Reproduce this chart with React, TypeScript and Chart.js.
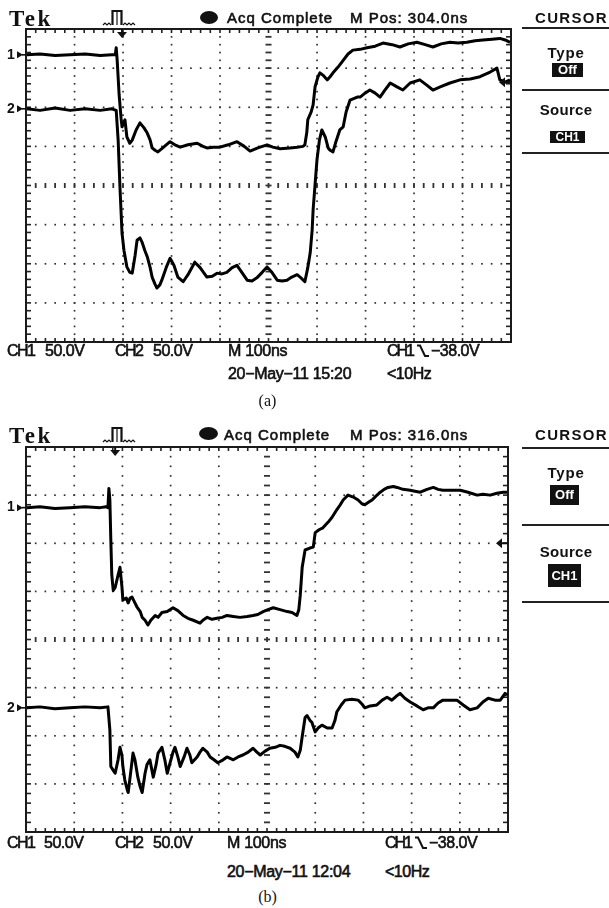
import React, { useEffect, useRef } from "react";
import { Chart, registerables } from "chart.js";

Chart.register(...registerables);

// ---- scope settings (ns / V) ----
const T_MIN = 0;
const T_MAX = 1000;
const V_MIN = -200;
const V_MAX = 200;
const DIV_T = 100;
const DIV_V = 50;
const MINOR_T = 20;
const MINOR_V = 10;

// ---- panel (a) traces ----
const aCh1T = [2,29,60,91,122,153,177,184,186,188,192,196,198,204,208,214,219,227,235,243,250,256,260,266,272,282,297,307,318,334,353,365,373,386,400,417,435,450,462,478,497,509,524,544,559,571,575,579,581,588,592,596,602,606,614,621,627,633,643,654,664,674,689,703,720,736,755,771,788,806,823,839,856,874,891,909,926,942,961,977,988,998];
const aCh1V = [167,168,166,167,168,166,167,167,176,160,116,86,75,84,62,54,58,71,80,74,67,58,48,45,43,48,56,52,49,52,54,50,48,49,49,52,56,50,44,48,52,49,47,48,49,50,52,68,84,94,103,126,139,144,140,135,139,144,151,160,168,173,174,176,178,182,180,177,181,183,180,177,181,183,182,183,185,186,187,188,186,183];
const aCh2T = [2,29,60,91,122,153,177,186,190,194,198,202,208,214,219,225,229,235,239,245,250,256,260,266,270,276,280,289,297,305,313,324,334,348,359,373,384,394,404,414,425,435,445,456,466,476,487,497,507,518,528,538,548,559,567,575,581,586,590,592,596,600,605,610,617,623,627,633,639,647,654,660,668,683,689,699,709,720,730,740,751,765,777,792,812,827,839,854,874,895,916,936,957,971,977,988,998];
const aCh2V = [98,96,99,96,98,96,98,96,58,-6,-61,-83,-104,-111,-112,-89,-70,-67,-72,-83,-91,-105,-117,-126,-131,-127,-121,-105,-93,-102,-117,-123,-114,-98,-105,-117,-116,-112,-113,-111,-105,-102,-111,-121,-122,-118,-111,-104,-111,-121,-122,-121,-117,-114,-118,-123,-105,-86,-57,-31,1,33,58,71,62,48,45,43,56,71,75,94,109,113,113,118,122,118,113,122,131,126,122,131,135,128,122,126,131,135,136,139,145,150,135,132,135];
const aRefs = [167, 98];
const aTrigPos = 198;
const aTrigLevel = 132;

// ---- panel (b) traces ----
const bCh1T = [2,29,60,91,122,154,166,170,172,174,176,178,181,185,191,195,199,201,208,212,216,220,226,230,237,241,247,253,259,268,274,282,293,305,315,326,336,347,361,367,376,386,396,407,417,430,444,459,471,481,492,502,513,527,542,552,562,566,569,573,579,589,596,600,608,616,627,635,645,652,658,668,679,689,697,703,712,718,726,735,743,751,762,770,782,797,807,818,832,845,855,865,880,901,917,936,948,963,977,990,998];
const bCh1V = [137,138,136,137,138,137,138,137,157,145,103,67,51,54,67,75,55,41,43,38,43,44,38,34,29,23,20,15,20,25,23,28,29,33,30,25,22,20,17,20,23,21,22,23,25,24,23,24,25,26,29,31,33,31,29,28,25,31,46,75,93,95,96,111,114,116,122,127,135,140,145,150,148,145,141,140,143,145,149,153,156,158,159,158,156,155,154,153,156,158,156,155,155,155,153,150,151,150,152,153,153];
const bCh2T = [2,29,60,91,122,154,170,174,176,181,185,191,195,199,201,205,210,212,216,222,226,232,237,241,247,251,257,264,270,274,282,288,293,299,305,309,315,320,328,334,340,344,355,361,367,376,382,390,398,409,417,430,440,450,461,471,479,486,496,506,517,527,537,548,558,564,569,573,579,583,589,593,600,606,614,625,635,641,645,654,662,676,689,697,703,714,728,739,749,759,768,776,786,797,811,824,834,845,855,865,880,894,907,921,936,948,959,973,984,994,998];
const bCh2V = [-71,-70,-72,-71,-70,-71,-70,-94,-132,-136,-139,-125,-112,-120,-132,-146,-156,-159,-143,-118,-125,-143,-153,-159,-139,-130,-125,-143,-130,-118,-112,-125,-139,-128,-117,-112,-122,-132,-122,-113,-120,-128,-122,-117,-113,-117,-122,-125,-128,-125,-122,-125,-122,-120,-117,-113,-117,-120,-116,-113,-112,-110,-111,-113,-117,-122,-115,-101,-81,-79,-84,-86,-96,-92,-89,-92,-92,-84,-75,-68,-63,-62,-63,-67,-71,-69,-68,-63,-60,-63,-59,-56,-61,-65,-69,-73,-71,-71,-66,-63,-63,-63,-68,-73,-71,-65,-61,-63,-63,-56,-58];
const bRefs = [137, -71];
const bTrigPos = 185;
const bTrigLevel = 100;

// ---- texts ----
const brand = "Tek";
const acqText = "Acq Complete";
const mPosA = "M Pos: 304.0ns";
const mPosB = "M Pos: 316.0ns";
const menuTitle = "CURSOR";
const menuType = "Type";
const menuTypeVal = "Off";
const menuSource = "Source";
const menuSourceVal = "CH1";
const ch1Label = "CH1";
const ch2Label = "CH2";
const voltsPerDiv = "50.0V";
const timePerDiv = "M 100ns";
const trigSource = "CH1";
const trigVolts = "\u221238.0V";
const dateA = "20\u2212May\u221211 15:20";
const dateB = "20\u2212May\u221211 12:04";
const freqText = "<10Hz";
const captionA = "(a)";
const captionB = "(b)";

const INK = "#111";

const graticule = {
  id: "scopeGraticule",
  beforeDatasetsDraw(chart: any, _a: any, opts: any) {
    const { ctx, chartArea: a, scales } = chart;
    const xs = scales.x;
    const ys = scales.y;
    ctx.save();
    ctx.fillStyle = "#333";
    for (let t = T_MIN + DIV_T; t < T_MAX; t += DIV_T) {
      const x = xs.getPixelForValue(t);
      const center = t === (T_MIN + T_MAX) / 2;
      for (let v = V_MIN + MINOR_V; v < V_MAX; v += MINOR_V) {
        const y = ys.getPixelForValue(v);
        if (center) ctx.fillRect(x - 3, y - 0.9, 6, 1.8);
        else ctx.fillRect(x - 0.8, y - 0.8, 1.7, 1.7);
      }
    }
    for (let v = V_MIN + DIV_V; v < V_MAX; v += DIV_V) {
      const y = ys.getPixelForValue(v);
      const center = v === 0;
      for (let t = T_MIN + MINOR_T; t < T_MAX; t += MINOR_T) {
        const x = xs.getPixelForValue(t);
        if (center) ctx.fillRect(x - 0.9, y - 2.5, 1.8, 5);
        else ctx.fillRect(x - 0.8, y - 0.8, 1.7, 1.7);
      }
    }
    ctx.fillStyle = "#222";
    for (let t = T_MIN + MINOR_T; t < T_MAX; t += MINOR_T) {
      const x = xs.getPixelForValue(t);
      ctx.fillRect(x - 0.8, a.top, 1.6, 4);
      ctx.fillRect(x - 0.8, a.bottom - 4, 1.6, 4);
    }
    for (let v = V_MIN + MINOR_V; v < V_MAX; v += MINOR_V) {
      const y = ys.getPixelForValue(v);
      ctx.fillRect(a.left, y - 0.8, 5, 1.6);
      ctx.fillRect(a.right - 5, y - 0.8, 5, 1.6);
    }
    ctx.strokeStyle = "#1a1a1a";
    ctx.lineWidth = 2;
    ctx.strokeRect(a.left, a.top, a.right - a.left, a.bottom - a.top);
    ctx.restore();
  },
  afterDatasetsDraw(chart: any, _a: any, opts: any) {
    const { ctx, chartArea: a, scales } = chart;
    const xs = scales.x;
    const ys = scales.y;
    ctx.save();
    ctx.fillStyle = INK;
    ctx.strokeStyle = INK;
    (opts.refs || []).forEach((r: number, i: number) => {
      const y = ys.getPixelForValue(r);
      ctx.font = 'bold 14px "Liberation Sans", Arial, sans-serif';
      ctx.textBaseline = "middle";
      ctx.textAlign = "left";
      ctx.fillText(String(i + 1), a.left - 19, y);
      ctx.beginPath();
      ctx.moveTo(a.left - 9, y - 3.5);
      ctx.lineTo(a.left - 3, y);
      ctx.lineTo(a.left - 9, y + 3.5);
      ctx.closePath();
      ctx.fill();
      ctx.fillRect(a.left - 4, y - 0.8, 4, 1.6);
    });
    if (opts.trigPos != null) {
      const x = xs.getPixelForValue(opts.trigPos);
      ctx.fillRect(x - 1, a.top, 2, 4);
      ctx.beginPath();
      ctx.moveTo(x - 5, a.top + 3);
      ctx.lineTo(x + 5, a.top + 3);
      ctx.lineTo(x, a.top + 9);
      ctx.closePath();
      ctx.fill();
    }
    if (opts.trigLevel != null) {
      const y = ys.getPixelForValue(opts.trigLevel);
      ctx.beginPath();
      ctx.moveTo(a.right - 12, y);
      ctx.lineTo(a.right - 6, y - 5);
      ctx.lineTo(a.right - 6, y + 5);
      ctx.closePath();
      ctx.fill();
      ctx.fillRect(a.right - 7, y - 1, 7, 2);
    }
    ctx.restore();
  },
};

type ScopeProps = {
  top: number;
  height: number;
  padRight: number;
  ch1T: number[];
  ch1V: number[];
  ch2T: number[];
  ch2V: number[];
  refs: number[];
  trigPos: number;
  trigLevel: number;
};

function ScopeChart(p: ScopeProps) {
  const ref = useRef<HTMLCanvasElement>(null);
  useEffect(() => {
    const pts = (ts: number[], vs: number[]) => ts.map((t, i) => ({ x: t, y: vs[i] }));
    const ds = (d: any) => ({
      data: d,
      borderColor: "#000",
      borderWidth: 3,
      pointRadius: 0,
      tension: 0,
      fill: false,
      borderJoinStyle: "round",
    });
    const chart = new Chart(ref.current as HTMLCanvasElement, {
      type: "line",
      data: { datasets: [ds(pts(p.ch1T, p.ch1V)), ds(pts(p.ch2T, p.ch2V))] as any },
      options: {
        animation: false,
        responsive: false,
        maintainAspectRatio: false,
        events: [],
        layout: { padding: { left: 26, top: 29, right: p.padRight, bottom: 10 } },
        scales: {
          x: { type: "linear", min: T_MIN, max: T_MAX, display: false },
          y: { type: "linear", min: V_MIN, max: V_MAX, display: false },
        },
        plugins: {
          legend: { display: false },
          tooltip: { enabled: false },
          scopeGraticule: { refs: p.refs, trigPos: p.trigPos, trigLevel: p.trigLevel },
        } as any,
      },
      plugins: [graticule as any],
    });
    return () => chart.destroy();
  }, []);
  return (
    <canvas
      ref={ref}
      width={609}
      height={p.height}
      style={{ position: "absolute", left: 0, top: p.top, width: 609, height: p.height }}
    />
  );
}

const SANS = '"Liberation Sans", Arial, sans-serif';
const SERIF = '"Liberation Serif", "Times New Roman", serif';

function Tx(props: { x: number; cap: number; size?: number; weight?: number; ls?: number; font?: string; stroke?: number; children: any; style?: any }) {
  const size = props.size || 16;
  return (
    <div
      style={{
        position: "absolute",
        left: props.x,
        top: props.cap - 0.125 * size,
        fontSize: size,
        lineHeight: 1,
        fontWeight: props.weight || 400,
        letterSpacing: props.ls || 0,
        fontFamily: props.font || SANS,
        whiteSpace: "pre",
        color: INK,
        WebkitTextStroke: props.stroke ? `${props.stroke}px ${INK}` : undefined,
        ...(props.style || {}),
      }}
    >
      {props.children}
    </div>
  );
}

function TrigIcon({ x, y }: { x: number; y: number }) {
  return (
    <svg width={36} height={18} style={{ position: "absolute", left: x, top: y }}>
      <path d="M1 16 L3 14 L5 16 L7 14 L9 16" stroke={INK} strokeWidth={1.2} fill="none" />
      <path d="M10.5 16 V2 H19.5 V16" stroke={INK} strokeWidth={2.2} fill="none" />
      <path d="M15 3 V16" stroke={INK} strokeWidth={1.2} fill="none" />
      <path d="M21 16 L23 14 L25 16 L27 14 L29 16 L31 14 L33 16" stroke={INK} strokeWidth={1.2} fill="none" />
    </svg>
  );
}

function SlopeIcon({ x, y }: { x: number; y: number }) {
  return (
    <svg width={14} height={14} style={{ position: "absolute", left: x, top: y }}>
      <path d="M1 1.5 H4 L9 12 H13" stroke={INK} strokeWidth={2} fill="none" />
    </svg>
  );
}

function Header(p: { acqX: number; mPos: string; dot: { x: number; y: number; w: number; h: number }; capTop: number; iconY: number }) {
  return (
    <>
      <Tx x={9} cap={p.capTop - 1.5} size={23} weight={700} ls={2.5} font={SERIF}>
        {brand}
      </Tx>
      <TrigIcon x={102} y={p.iconY} />
      <div
        style={{
          position: "absolute",
          left: p.dot.x,
          top: p.dot.y,
          width: p.dot.w,
          height: p.dot.h,
          borderRadius: "50%",
          background: INK,
        }}
      />
      <Tx x={p.acqX} cap={p.capTop} size={15} ls={1} stroke={0.6}>
        {acqText}
      </Tx>
      <Tx x={350} cap={p.capTop} size={15} ls={1} stroke={0.6}>
        {p.mPos}
      </Tx>
      <Tx x={535} cap={p.capTop} size={15} weight={700} ls={1.3}>
        {menuTitle}
      </Tx>
    </>
  );
}

function Menu(p: {
  lines: number[];
  typeCap: number;
  srcCap: number;
  offBox: { x: number; y: number; w: number; h: number };
  chBox: { x: number; y: number; w: number; h: number };
}) {
  const box = (b: { x: number; y: number; w: number; h: number }, txt: string) => (
    <div
      style={{
        position: "absolute",
        left: b.x,
        top: b.y,
        width: b.w,
        height: b.h,
        background: INK,
        color: "#fff",
        fontFamily: SANS,
        fontWeight: 700,
        fontSize: Math.min(13, b.h),
        lineHeight: `${b.h}px`,
        textAlign: "center",
        overflow: "hidden",
      }}
    >
      {txt}
    </div>
  );
  return (
    <>
      {p.lines.map((y, i) => (
        <div key={i} style={{ position: "absolute", left: 522, top: y - 1, width: 87, height: 2, background: "#222" }} />
      ))}
      <Tx x={523} cap={p.typeCap} size={15} weight={700} ls={0.8} style={{ width: 86, textAlign: "center" }}>
        {menuType}
      </Tx>
      {box(p.offBox, menuTypeVal)}
      <Tx x={523} cap={p.srcCap} size={15} weight={700} ls={0.3} style={{ width: 86, textAlign: "center" }}>
        {menuSource}
      </Tx>
      {box(p.chBox, menuSourceVal)}
    </>
  );
}

function Footer(p: { cap1: number; cap2: number; date: string; xs: number[] }) {
  const [c1, v1, c2, v2, m, t, s, tv] = p.xs;
  const sw = 0.6;
  return (
    <>
      <Tx x={c1} cap={p.cap1} stroke={sw} ls={-1.5}>{ch1Label}</Tx>
      <Tx x={v1} cap={p.cap1} stroke={sw} ls={-0.5}>{voltsPerDiv}</Tx>
      <Tx x={c2} cap={p.cap1} stroke={sw} ls={-1.5}>{ch2Label}</Tx>
      <Tx x={v2} cap={p.cap1} stroke={sw} ls={-0.5}>{voltsPerDiv}</Tx>
      <Tx x={m} cap={p.cap1} stroke={sw} ls={-0.3}>{timePerDiv}</Tx>
      <Tx x={t} cap={p.cap1} stroke={sw} ls={-2}>{trigSource}</Tx>
      <SlopeIcon x={s} y={p.cap1 - 1} />
      <Tx x={tv} cap={p.cap1} stroke={sw} ls={-0.5}>{trigVolts}</Tx>
      <Tx x={m} cap={p.cap2} stroke={sw} ls={-0.3}>{p.date}</Tx>
      <Tx x={t} cap={p.cap2} stroke={sw} ls={-0.5}>{freqText}</Tx>
    </>
  );
}

export default function App() {
  return (
    <div
      style={{
        position: "absolute",
        left: 0,
        top: 0,
        width: 609,
        height: 908,
        background: "#fff",
        overflow: "hidden",
      }}
    >
      <ScopeChart
        top={0}
        height={352}
        padRight={98}
        ch1T={aCh1T}
        ch1V={aCh1V}
        ch2T={aCh2T}
        ch2V={aCh2V}
        refs={aRefs}
        trigPos={aTrigPos}
        trigLevel={aTrigLevel}
      />
      <ScopeChart
        top={418}
        height={424}
        padRight={101}
        ch1T={bCh1T}
        ch1V={bCh1V}
        ch2T={bCh2T}
        ch2V={bCh2V}
        refs={bRefs}
        trigPos={bTrigPos}
        trigLevel={bTrigLevel}
      />

      <Header acqX={227} mPos={mPosA} dot={{ x: 200, y: 11, w: 18, h: 13 }} capTop={11.5} iconY={9} />
      <Menu
        lines={[28, 90, 153]}
        typeCap={47}
        srcCap={104}
        offBox={{ x: 552, y: 63, w: 31, h: 14 }}
        chBox={{ x: 550, y: 131, w: 35, h: 12 }}
      />
      <Footer cap1={345} cap2={368} date={dateA} xs={[7, 45, 115, 153, 228, 387, 416, 431]} />
      <div style={{ position: "absolute", left: 0, width: 535, top: 393, textAlign: "center", fontFamily: SERIF, fontSize: 16, lineHeight: 1, color: INK }}>
        {captionA}
      </div>

      <Header acqX={224} mPos={mPosB} dot={{ x: 199, y: 427, w: 19, h: 13 }} capTop={428.5} iconY={426} />
      <Menu
        lines={[448, 525, 602]}
        typeCap={467}
        srcCap={546}
        offBox={{ x: 550, y: 485, w: 29, h: 20 }}
        chBox={{ x: 548, y: 564, w: 33, h: 23 }}
      />
      <Footer cap1={837} cap2={866} date={dateB} xs={[7, 44, 115, 153, 227, 385, 414, 429]} />
      <div style={{ position: "absolute", left: 0, width: 535, top: 889, textAlign: "center", fontFamily: SERIF, fontSize: 16, lineHeight: 1, color: INK }}>
        {captionB}
      </div>
    </div>
  );
}
